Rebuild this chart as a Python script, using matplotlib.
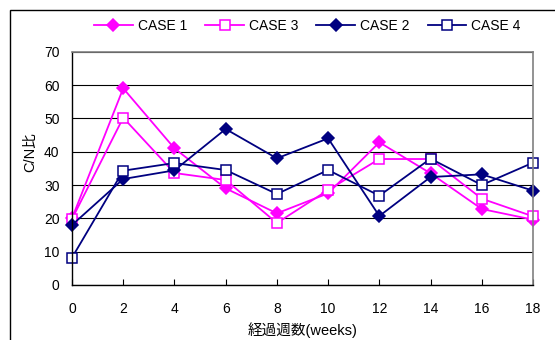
import matplotlib
matplotlib.use("Agg")
import matplotlib.pyplot as plt
from matplotlib.patches import Rectangle

plt.rcParams['font.family'] = ['Liberation Sans', 'Noto Sans CJK JP']

weeks = [0, 2, 4, 6, 8, 10, 12, 14, 16, 18]
case1 = [20.0, 59.0, 41.0, 29.0, 21.5, 27.5, 42.8, 33.5, 22.8, 19.6]
case3 = [19.8, 50.2, 33.6, 31.5, 18.6, 28.5, 37.8, 37.8, 25.9, 20.6]
case2 = [18.0, 31.8, 34.4, 46.8, 38.0, 44.0, 20.7, 32.4, 33.2, 28.3]
case4 = [8.2, 34.3, 36.6, 34.5, 27.3, 34.5, 26.8, 37.9, 30.0, 36.7]

magenta = '#ff00ff'
navy = '#000080'

fig = plt.figure(figsize=(5.55, 3.4), dpi=100)
ax = fig.add_axes([72 / 555, 1 - 285 / 340, 461 / 555, 233.3 / 340])

# outer chart frame, runs off the right and bottom edges
fig.patches.append(Rectangle((9.5 / 555, -0.1), 1.2, 1 - 9.5 / 340 + 0.1,
                             transform=fig.transFigure, fill=False,
                             edgecolor='black', linewidth=1.0))

line_kw = dict(linewidth=1.3, markeredgewidth=1.1, clip_on=False)
ax.plot(weeks, case1, color=magenta, marker='D', markersize=6.5, label='CASE 1', **line_kw)
ax.plot(weeks, case3, color=magenta, marker='s', markersize=7.5,
        markerfacecolor='white', label='CASE 3', **line_kw)
ax.plot(weeks, case2, color=navy, marker='D', markersize=6.5, label='CASE 2', **line_kw)
ax.plot(weeks, case4, color=navy, marker='s', markersize=7.5,
        markerfacecolor='white', label='CASE 4', **line_kw)

ax.set_xlim(0, 18)
ax.set_ylim(0, 70)
ax.set_xticks(weeks)
ax.set_yticks(range(0, 71, 10))
ax.yaxis.grid(True, color='black', linewidth=0.8)
ax.set_axisbelow(True)
for s in ['top', 'right']:
    ax.spines[s].set_color('#808080')
    ax.spines[s].set_linewidth(1.2)
for s in ['left', 'bottom']:
    ax.spines[s].set_color('black')
    ax.spines[s].set_linewidth(1.0)

ax.tick_params(axis='x', direction='in', length=4, width=0.8, pad=12, labelsize=10)
ax.tick_params(axis='y', length=0, pad=9, labelsize=10)

ax.set_xlabel('経過週数(weeks)', fontsize=10.5, labelpad=5)
fig.text(30 / 555, 1 - 152 / 340, 'C/N比', rotation=90, fontsize=10.5,
         ha='center', va='center')

fig.legend(loc='center left', bbox_to_anchor=(94 / 555, 1 - 26 / 340),
           ncol=4, frameon=False, fontsize=10, borderpad=0, borderaxespad=0,
           handlelength=2.8, handletextpad=0.35, columnspacing=1.3)

fig.savefig('out.png', dpi=100)
